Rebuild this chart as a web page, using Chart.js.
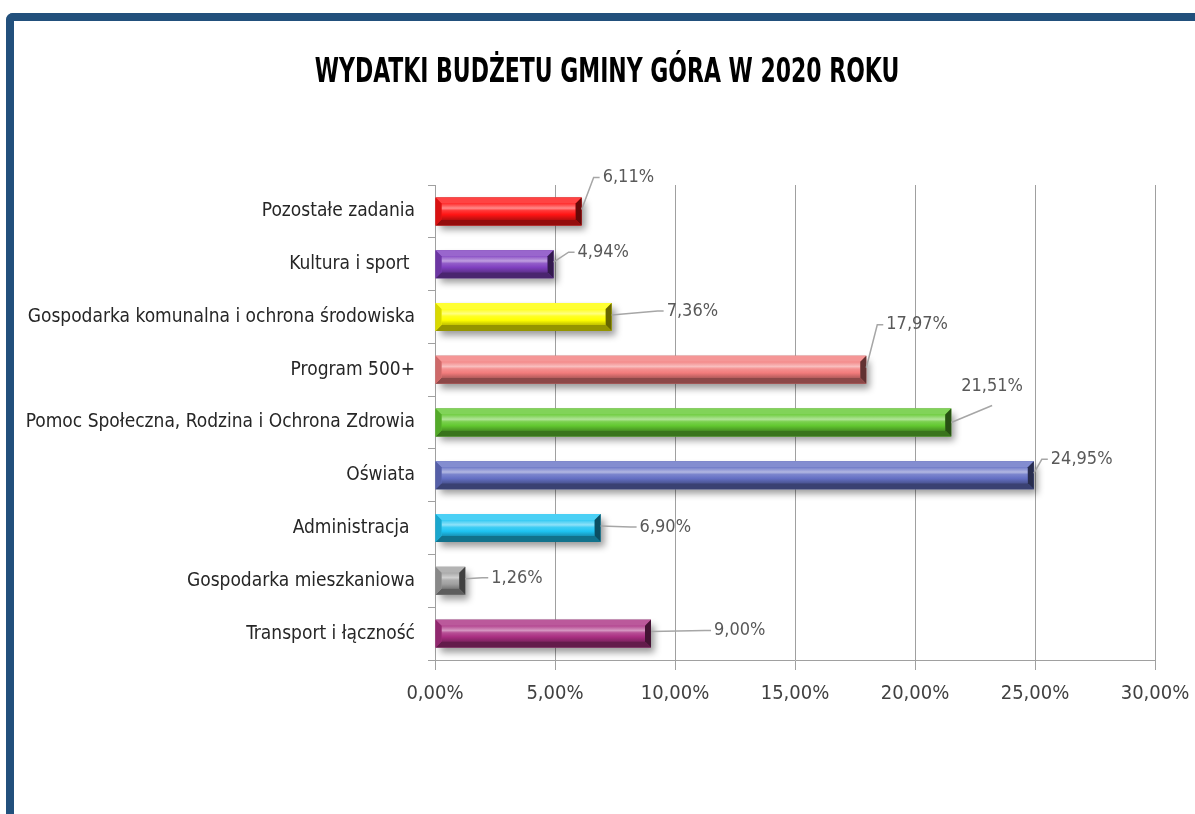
<!DOCTYPE html>
<html>
<head>
<meta charset="utf-8">
<script src="https://cdn.jsdelivr.net/npm/chart.js@4/dist/chart.umd.min.js"></script>
<style>
  html, body { margin: 0; padding: 0; background: #fff; overflow: hidden; }
  #frame {
    position: absolute; left: 6px; top: 13px; width: 1300px; height: 900px;
    border-left: 8px solid #22507c; border-top: 8px solid #22507c;
    border-top-left-radius: 7px;
  }
  #wrap { position: absolute; left: 0; top: 0; width: 1195px; height: 814px; }
</style>
</head>
<body>
<div id="frame"></div>
<div id="wrap"><canvas id="chart"></canvas></div>
<script>
// Expense categories, top to bottom as in the picture
const categories = [
  'Pozostałe zadania',
  'Kultura i sport ',
  'Gospodarka komunalna i ochrona środowiska',
  'Program 500+',
  'Pomoc Społeczna, Rodzina i Ochrona Zdrowia',
  'Oświata',
  'Administracja ',
  'Gospodarka mieszkaniowa',
  'Transport i łączność'
];
const shares = [6.11, 4.94, 7.36, 17.97, 21.51, 24.95, 6.90, 1.26, 9.00];
const xTicks = [0, 5, 10, 15, 20, 25, 30];
const titleText = 'WYDATKI BUDŻETU GMINY GÓRA W 2020 ROKU';

const barColors = ['#ff1414', '#8040c0', '#ffff00', '#f27c7c', '#62c830', '#6470c4', '#1ec4f2', '#a0a0a0', '#aa2f82'];

// where each data label sits, relative to the bar end (moved by hand in the original)
const labelOffsets = [
  { dx: 21, dy: -34 }, { dx: 24, dy: -12 }, { dx: 55, dy: -6 },
  { dx: 20, dy: -45 }, { dx: 10, dy: -36, under: true }, { dx: 17, dy: -16 },
  { dx: 39, dy: -1 }, { dx: 26, dy: -3 }, { dx: 63, dy: -3 }
];

const FONT = '"Liberation Sans Narrow", "DejaVu Sans Condensed", "Open Sans", sans-serif';
const pct = v => v.toFixed(2).replace('.', ',') + '%';

function mix(hex, target, amt) {
  const n = parseInt(hex.slice(1), 16);
  const r = (n >> 16) & 255, g = (n >> 8) & 255, b = n & 255;
  const m = c => Math.round(c + (target - c) * amt);
  return `rgb(${m(r)},${m(g)},${m(b)})`;
}

function barBox(bar) {
  const p = bar.getProps(['x', 'y', 'base', 'height'], true);
  return { l: Math.min(p.base, p.x), r: Math.max(p.base, p.x), t: p.y - p.height / 2, b: p.y + p.height / 2, y: p.y };
}

function poly(ctx, pts, fill) {
  ctx.beginPath();
  ctx.moveTo(pts[0][0], pts[0][1]);
  for (let i = 1; i < pts.length; i++) ctx.lineTo(pts[i][0], pts[i][1]);
  ctx.closePath();
  ctx.fillStyle = fill;
  ctx.fill();
}

// shadow under the bars, then a bevelled face on top of them
const bevel = {
  id: 'bevel',
  beforeDatasetsDraw(chart) {
    const ctx = chart.ctx;
    ctx.save();
    ctx.shadowColor = 'rgba(0,0,0,0.4)';
    ctx.shadowBlur = 7;
    ctx.shadowOffsetX = 4;
    ctx.shadowOffsetY = 5;
    chart.getDatasetMeta(0).data.forEach(bar => {
      const { l, r, t, b } = barBox(bar);
      ctx.fillStyle = '#888';
      ctx.fillRect(l, t, r - l, b - t);
    });
    ctx.restore();
  },
  afterDatasetsDraw(chart) {
    const ctx = chart.ctx;
    ctx.save();
    chart.getDatasetMeta(0).data.forEach((bar, i) => {
      const { l, r, t, b } = barBox(bar);
      const c = barColors[i];
      const e = Math.min(6, (r - l) / 3);
      const h = b - t;
      const g = ctx.createLinearGradient(0, t + e, 0, b - e);
      g.addColorStop(0, mix(c, 255, 0.1));
      g.addColorStop(0.3, mix(c, 255, 0.5));
      g.addColorStop(0.45, mix(c, 255, 0.15));
      g.addColorStop(0.7, c);
      g.addColorStop(1, mix(c, 0, 0.25));
      ctx.fillStyle = g;
      ctx.fillRect(l + e, t + e, r - l - 2 * e, h - 2 * e);
      poly(ctx, [[l, t], [r, t], [r - e, t + e], [l + e, t + e]], mix(c, 255, 0.2));
      poly(ctx, [[l, b], [r, b], [r - e, b - e], [l + e, b - e]], mix(c, 0, 0.42));
      poly(ctx, [[r, t], [r, b], [r - e, b - e], [r - e, t + e]], mix(c, 0, 0.6));
      poly(ctx, [[l, t], [l, b], [l + e, b - e], [l + e, t + e]], mix(c, 0, 0.15));
    });
    ctx.restore();
  }
};

// title in a tall, narrow bold face, then value labels with leader lines
const texts = {
  id: 'texts',
  afterDraw(chart) {
    const ctx = chart.ctx;
    ctx.save();
    ctx.translate(607, 73);
    ctx.scale(0.74, 1);
    ctx.font = 'bold 33px ' + FONT;
    ctx.fillStyle = '#000';
    ctx.textAlign = 'center';
    ctx.textBaseline = 'middle';
    ctx.fillText(titleText, 0, 0);
    ctx.restore();

    ctx.save();
    ctx.font = '18px ' + FONT;
    ctx.textBaseline = 'middle';
    ctx.textAlign = 'left';
    chart.getDatasetMeta(0).data.forEach((bar, i) => {
      const { r, y } = barBox(bar);
      const o = labelOffsets[i];
      const lx = r + o.dx, ly = y + o.dy;
      const txt = pct(shares[i]);
      const w = ctx.measureText(txt).width;
      ctx.strokeStyle = '#a6a6a6';
      ctx.lineWidth = 1.5;
      ctx.beginPath();
      if (o.under) {
        ctx.moveTo(r, y);
        ctx.lineTo(lx + w / 2, ly + 19);
      } else {
        ctx.moveTo(r, y - 2);
        ctx.lineTo(lx - 9, ly);
        ctx.lineTo(lx - 3, ly);
      }
      ctx.stroke();
      ctx.fillStyle = '#595959';
      ctx.fillText(txt, lx, ly);
    });
    ctx.restore();
  }
};

new Chart(document.getElementById('chart'), {
  type: 'bar',
  data: {
    labels: categories,
    datasets: [{
      data: shares,
      backgroundColor: barColors,
      borderWidth: 0,
      categoryPercentage: 0.53,
      barPercentage: 1
    }]
  },
  options: {
    indexAxis: 'y',
    responsive: true,
    maintainAspectRatio: false,
    animation: false,
    layout: { padding: { left: 10, right: 40, top: 185, bottom: 94 } },
    plugins: {
      legend: { display: false },
      tooltip: { enabled: false },
      title: { display: false }
    },
    scales: {
      x: {
        min: 0, max: 30,
        afterBuildTicks: s => { s.ticks = xTicks.map(v => ({ value: v })); },
        afterFit: s => { s.height = 60; s.paddingLeft = 0; s.paddingRight = 0; },
        grid: { color: '#a0a0a0', tickLength: 10, lineWidth: 1 },
        border: { color: '#a0a0a0' },
        ticks: {
          callback: v => pct(v),
          color: '#404040',
          padding: 12,
          maxRotation: 0,
          font: { family: FONT, size: 20 }
        }
      },
      y: {
        afterFit: s => { s.width = 425; },
        grid: { drawOnChartArea: false, color: '#a0a0a0', tickLength: 7 },
        border: { color: '#a0a0a0' },
        ticks: {
          color: '#262626',
          padding: 13,
          font: { family: FONT, size: 19 }
        }
      }
    }
  },
  plugins: [bevel, texts]
});
</script>
</body>
</html>
